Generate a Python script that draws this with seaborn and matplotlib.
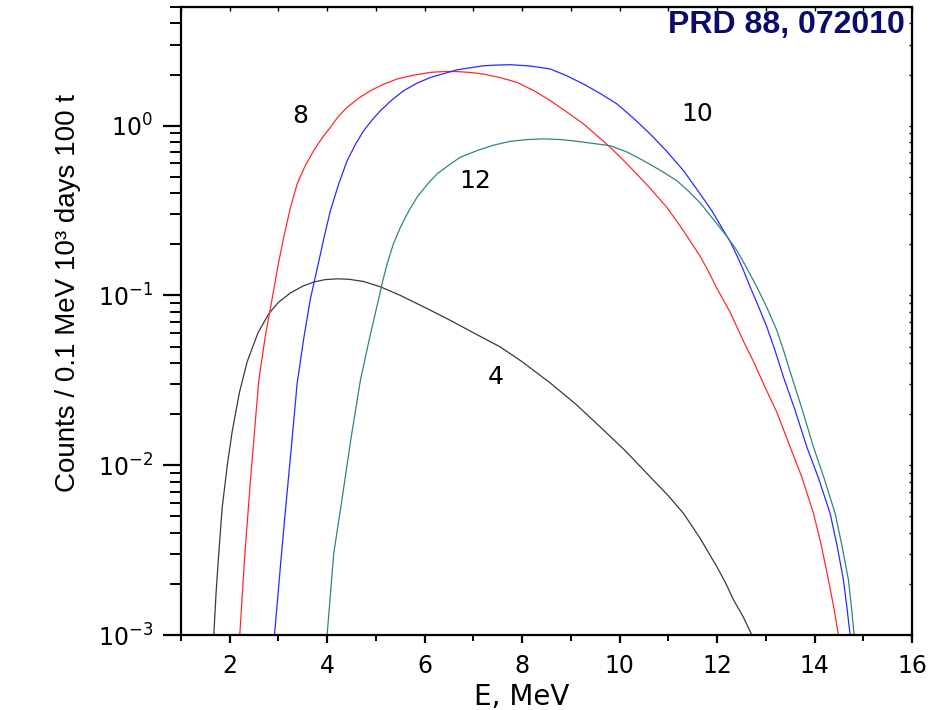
import numpy as np
import pandas as pd
import matplotlib
matplotlib.use("Agg")
import matplotlib.pyplot as plt
import seaborn as sns
from matplotlib.ticker import FixedLocator, NullFormatter, LogLocator, LogFormatterSciNotation

# ---------------- data ----------------
energy_4 = [1.673, 1.72, 1.775, 1.845, 1.95, 2.05, 2.2, 2.358, 2.58, 2.801, 3.0, 3.246, 3.5, 3.724,
            3.95, 4.203, 4.45, 4.749, 5.1, 5.502, 6.0, 6.527, 7.0, 7.553, 8.0, 8.578, 9.1, 9.603,
            10.1, 10.629, 11.0, 11.312, 11.65, 11.997, 12.17, 12.337, 12.53, 12.714]
counts_4 = [0.00100, 0.00178, 0.00302, 0.00562, 0.0100, 0.0158, 0.0269, 0.0407, 0.0603, 0.0780,
            0.0912, 0.1035, 0.1135, 0.1199, 0.1239, 0.1253, 0.1245, 0.1208, 0.1122, 0.100, 0.0851,
            0.0713, 0.0603, 0.0497, 0.0407, 0.0305, 0.0229, 0.0168, 0.0123, 0.00853, 0.00661,
            0.00520, 0.00372, 0.00252, 0.00204, 0.00161, 0.00129, 0.00100]

energy_8 = [2.206, 2.302, 2.425, 2.596, 2.73, 2.870, 3.0, 3.108, 3.24, 3.383, 3.55, 3.724, 3.9,
            4.066, 4.23, 4.409, 4.65, 4.886, 5.15, 5.434, 5.75, 6.117, 6.4, 6.665, 6.95, 7.210,
            7.55, 7.895, 8.25, 8.578, 8.92, 9.261, 9.53, 9.808, 10.05, 10.286, 10.63, 10.971,
            11.312, 11.654, 11.826, 11.997, 12.27, 12.542, 12.75, 12.952, 13.23, 13.500, 13.74,
            13.978, 14.13, 14.285, 14.39, 14.490]
counts_8 = [0.00100, 0.00276, 0.00817, 0.0316, 0.0575, 0.0957, 0.155, 0.220, 0.324, 0.454, 0.582,
            0.713, 0.851, 0.977, 1.135, 1.282, 1.455, 1.607, 1.750, 1.884, 1.977, 2.061, 2.084,
            2.084, 2.056, 2.014, 1.919, 1.799, 1.603, 1.403, 1.202, 1.023, 0.877, 0.745, 0.638,
            0.543, 0.427, 0.330, 0.240, 0.170, 0.138, 0.110, 0.0794, 0.0537, 0.0407, 0.0302,
            0.0204, 0.0128, 0.00851, 0.00520, 0.00347, 0.00211, 0.00148, 0.00100]

energy_10 = [2.918, 3.051, 3.143, 3.246, 3.383, 3.52, 3.656, 3.826, 3.95, 4.066, 4.24, 4.409, 4.58,
             4.749, 4.92, 5.091, 5.33, 5.569, 5.84, 6.117, 6.665, 7.210, 7.48, 7.758, 8.15, 8.578,
             8.9, 9.261, 9.6, 9.946, 10.3, 10.629, 10.97, 11.312, 11.654, 11.9, 12.132, 12.27,
             12.407, 12.54, 12.680, 12.85, 13.022, 13.19, 13.363, 13.6, 13.842, 14.08, 14.320,
             14.46, 14.593, 14.67, 14.730]
counts_10 = [0.00100, 0.00276, 0.00543, 0.0112, 0.0303, 0.0562, 0.0957, 0.158, 0.229, 0.316,
             0.457, 0.622, 0.776, 0.935, 1.079, 1.225, 1.419, 1.607, 1.778, 1.923, 2.133, 2.254,
             2.275, 2.286, 2.249, 2.158, 1.977, 1.758, 1.549, 1.343, 1.096, 0.893, 0.705, 0.543,
             0.396, 0.313, 0.241, 0.207, 0.172, 0.141, 0.112, 0.0861, 0.0652, 0.0473, 0.0330,
             0.0211, 0.0128, 0.00841, 0.00520, 0.00339, 0.00211, 0.00141, 0.00100]

energy_12 = [3.998, 4.134, 4.306, 4.49, 4.681, 4.87, 5.057, 5.14, 5.229, 5.36, 5.502, 5.67, 5.844,
             6.05, 6.254, 6.527, 6.732, 7.075, 7.4, 7.758, 8.1, 8.441, 8.8, 9.126, 9.808, 10.15,
             10.491, 10.83, 11.176, 11.41, 11.654, 11.997, 12.2, 12.407, 12.61, 12.817, 13.02,
             13.227, 13.36, 13.5, 13.74, 13.978, 14.2, 14.423, 14.56, 14.696, 14.76, 14.813]
counts_12 = [0.00100, 0.00302, 0.00637, 0.0145, 0.0316, 0.0562, 0.0957, 0.122, 0.153, 0.202,
             0.252, 0.313, 0.379, 0.450, 0.520, 0.594, 0.652, 0.713, 0.766, 0.809, 0.828, 0.836,
             0.828, 0.809, 0.762, 0.700, 0.622, 0.547, 0.474, 0.412, 0.351, 0.264, 0.223, 0.184,
             0.145, 0.112, 0.0851, 0.0622, 0.0479, 0.0355, 0.0216, 0.0128, 0.00832, 0.00520,
             0.00339, 0.00211, 0.00143, 0.00100]

series_names = ["4", "8", "10", "12"]
series_colors = {"4": "#3a3a3a", "8": "#ff2a2a", "10": "#2a2aff", "12": "#2e8585"}
label_x = [7.45, 3.457, 11.593, 7.04]
label_y = [0.0332, 1.14, 1.17, 0.475]

x_major = [2, 4, 6, 8, 10, 12, 14, 16]
x_minor = [1, 3, 5, 7, 9, 11, 13, 15]
x_label = "E, MeV"
y_label = "Counts / 0.1 MeV 10³ days 100 t"
note_text = "PRD 88, 072010"

frames = []
for name, e, c in [("4", energy_4, counts_4), ("8", energy_8, counts_8),
                   ("10", energy_10, counts_10), ("12", energy_12, counts_12)]:
    frames.append(pd.DataFrame({"E": e, "counts": c, "curve": name}))
df = pd.concat(frames, ignore_index=True)

# ---------------- figure ----------------
sns.set_style("white")
plt.rcParams["font.family"] = ["DejaVu Sans"]
plt.rcParams["mathtext.fontset"] = "dejavusans"

fig = plt.figure(figsize=(9.45, 7.10), dpi=100)
ax = fig.add_axes([181 / 945, 75 / 710, 731 / 945, 628 / 710])

sns.lineplot(data=df, x="E", y="counts", hue="curve", hue_order=series_names,
             palette=series_colors, linewidth=0.9, legend=False, sort=False,
             estimator=None, ax=ax)

ax.set_yscale("log")
ax.set_xlim(1, 16)
ax.set_ylim(1e-3, 5)

ax.xaxis.set_major_locator(FixedLocator(x_major))
ax.xaxis.set_minor_locator(FixedLocator(x_minor))
ax.yaxis.set_major_locator(LogLocator(base=10, numticks=10))
ax.yaxis.set_minor_locator(LogLocator(base=10, subs=np.arange(2, 10), numticks=20))
ax.yaxis.set_major_formatter(LogFormatterSciNotation())
ax.yaxis.set_minor_formatter(NullFormatter())

for s in ax.spines.values():
    s.set_linewidth(1.6)
    s.set_color("black")
    s.set_visible(True)

ax.tick_params(which="both", bottom=True, left=True, top=False, right=False)
ax.tick_params(axis="x", which="major", direction="out", length=6, width=1.6,
               labelsize=17, pad=8, colors="black")
ax.tick_params(axis="x", which="minor", direction="out", length=4, width=1.4, colors="black")
ax.tick_params(axis="y", which="major", direction="out", length=13, width=1.6,
               labelsize=17, pad=7, colors="black")
ax.tick_params(axis="y", which="minor", direction="out", length=8, width=1.4, colors="black")

# small inward ticks on top and right
secx = ax.secondary_xaxis("top")
secx.xaxis.set_major_locator(FixedLocator(x_major))
secx.xaxis.set_minor_locator(FixedLocator(x_minor))
secx.xaxis.set_major_formatter(NullFormatter())
secx.tick_params(which="both", top=True, direction="in", length=3, width=1.0,
                 labeltop=False, colors="black")
secy = ax.secondary_yaxis("right")
secy.yaxis.set_major_locator(LogLocator(base=10, numticks=10))
secy.yaxis.set_minor_locator(LogLocator(base=10, subs=np.arange(2, 10), numticks=20))
secy.yaxis.set_major_formatter(NullFormatter())
secy.yaxis.set_minor_formatter(NullFormatter())
secy.tick_params(which="both", right=True, direction="in", length=2.5, width=1.0,
                 labelright=False, colors="black")

ax.set_xlabel(x_label, fontsize=20, labelpad=3, color="black", x=(522 - 181) / 731)
ax.set_ylabel(y_label, fontsize=20, labelpad=12, color="black",
              family=["Liberation Sans", "DejaVu Sans"], y=(635 - 293) / 628)

for name, lx, ly in zip(series_names, label_x, label_y):
    ax.text(lx, ly, name, fontsize=18, ha="center", va="center", color="black")

fig.text(905 / 945, 1 - 25 / 710, note_text, fontsize=23, fontweight="bold",
         color="#0b0b6b", ha="right", va="center", family=["Liberation Sans", "DejaVu Sans"])

fig.savefig("out.png", dpi=100, facecolor="white")
